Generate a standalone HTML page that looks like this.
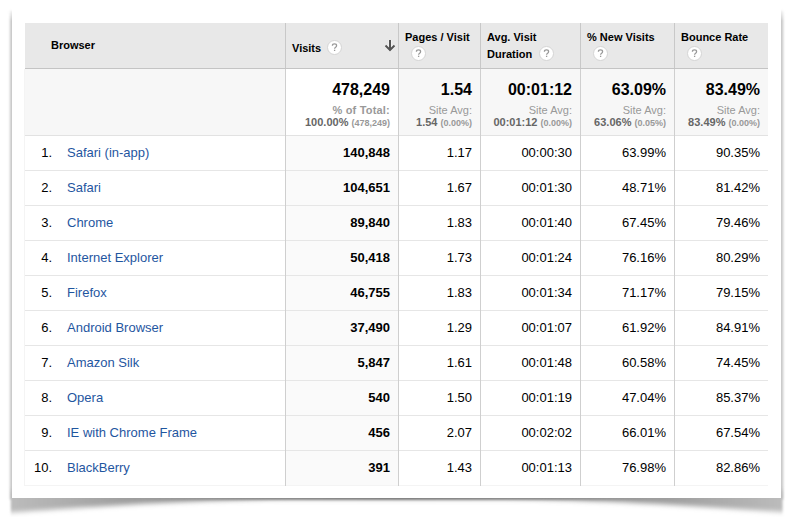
<!DOCTYPE html><html><head><meta charset="utf-8"><style>
*{margin:0;padding:0;box-sizing:border-box}
html,body{width:797px;height:528px;overflow:hidden;background:#fff;font-family:"Liberation Sans",sans-serif;color:#000}
.a{position:absolute}
#shadow{position:absolute;left:0;top:0}
#card{position:absolute;left:12px;top:0;width:769px;height:498px;background:#fff}
.hd{position:absolute;top:23px;height:45px;background:#e8e8e8}
.hline{position:absolute;background:#c6c6c6}
.vl{position:absolute;width:1px}
.t{position:absolute;white-space:nowrap;font-size:13px;line-height:15px}
.hb{font-size:11px;font-weight:bold;color:#000;line-height:17px}
.q{position:absolute;width:14px;height:14px;border-radius:50%;background:#fff;border:1px solid #d8d8d8;color:#9a9a9a;font-size:10px;line-height:12px;text-align:center;font-weight:normal}
.r{text-align:right}
.lnk{color:#1f569f}
.big{font-size:16px;font-weight:bold;color:#000;line-height:18px}
.gl{font-size:11px;color:#999;line-height:13px}
.gb{font-size:11px;font-weight:bold;color:#666;line-height:13px}
.sm{font-size:9px;font-weight:bold;color:#999}
</style></head><body>
<svg id="shadow" width="797" height="528" viewBox="0 0 797 528">
<defs>
<filter id="bl" x="-5%" y="-5%" width="110%" height="110%"><feGaussianBlur stdDeviation="0.9"/></filter>
<linearGradient id="mg" gradientUnits="userSpaceOnUse" x1="0" x2="0" y1="8" y2="21"><stop offset="0" stop-color="#fff" stop-opacity="0"/><stop offset="1" stop-color="#fff" stop-opacity="1"/></linearGradient>
<mask id="mk" maskUnits="userSpaceOnUse" x="0" y="0" width="797" height="528"><rect x="0" y="0" width="797" height="528" fill="url(#mg)"/></mask>
<filter id="bl2" x="-5%" y="-20%" width="110%" height="140%"><feGaussianBlur stdDeviation="1 2.6"/></filter>
<linearGradient id="sg" gradientUnits="userSpaceOnUse" x1="10" x2="784" y1="0" y2="0">
<stop offset="0" stop-color="#c8c8c8"/><stop offset="0.15" stop-color="#b0b0b0"/><stop offset="0.3" stop-color="#808080"/><stop offset="0.5" stop-color="#6a6a6a"/><stop offset="0.7" stop-color="#808080"/><stop offset="0.85" stop-color="#b0b0b0"/><stop offset="1" stop-color="#c8c8c8"/>
</linearGradient>
<linearGradient id="sg2" gradientUnits="userSpaceOnUse" x1="10" x2="784" y1="0" y2="0">
<stop offset="0" stop-color="#bcbcbc"/><stop offset="0.14" stop-color="#a0a0a0"/><stop offset="0.3" stop-color="#8c8c8c"/><stop offset="0.5" stop-color="#808080"/><stop offset="0.7" stop-color="#8c8c8c"/><stop offset="0.86" stop-color="#a0a0a0"/><stop offset="1" stop-color="#bcbcbc"/>
</linearGradient>
</defs>
<g mask="url(#mk)"><path d="M9.9,10 L783.2,10 L783.2,499.6 L9.9,499.6 Z" fill="url(#sg)" filter="url(#bl)"/></g>
<path d="M10.8,490 L782.6,490 L782.6,512 C700,506.5 600,499.5 500,498.8 L290,498.8 C190,499.5 90,507 10.8,512.5 Z" fill="url(#sg2)" filter="url(#bl2)"/>
</svg>
<div id="card"></div>
<div class="a" style="left:25px;top:23px;width:743px;height:45px;background:#e8e8e8"></div>
<div class="a" style="left:25px;top:68px;width:743px;height:1px;background:#c4c4c4"></div>
<div class="a" style="left:24px;top:69px;width:744px;height:66px;background:#f7f7f7"></div>
<div class="a" style="left:24px;top:135px;width:744px;height:1px;background:#e2e2e2"></div>
<div class="a" style="left:286px;top:69px;width:112px;height:66px;background:#fff"></div>
<div class="a" style="left:286px;top:136px;width:112px;height:349px;background:#fafafa"></div>
<div class="a" style="left:25px;top:170px;width:743px;height:1px;background:#e6e6e6"></div>
<div class="a" style="left:25px;top:205px;width:743px;height:1px;background:#e6e6e6"></div>
<div class="a" style="left:25px;top:240px;width:743px;height:1px;background:#e6e6e6"></div>
<div class="a" style="left:25px;top:275px;width:743px;height:1px;background:#e6e6e6"></div>
<div class="a" style="left:25px;top:310px;width:743px;height:1px;background:#e6e6e6"></div>
<div class="a" style="left:25px;top:345px;width:743px;height:1px;background:#e6e6e6"></div>
<div class="a" style="left:25px;top:380px;width:743px;height:1px;background:#e6e6e6"></div>
<div class="a" style="left:25px;top:415px;width:743px;height:1px;background:#e6e6e6"></div>
<div class="a" style="left:25px;top:450px;width:743px;height:1px;background:#e6e6e6"></div>
<div class="a" style="left:24px;top:485px;width:744px;height:1px;background:#f4f4f4"></div>
<div class="a" style="left:24px;top:69px;width:1px;height:417px;background:#f4f4f4"></div>
<div class="a" style="left:285px;top:23px;width:1px;height:45px;background:#c8c8c8"></div>
<div class="a" style="left:285px;top:69px;width:1px;height:417px;background:#cfcfcf"></div>
<div class="a" style="left:398px;top:23px;width:1px;height:45px;background:#c8c8c8"></div>
<div class="a" style="left:398px;top:69px;width:1px;height:417px;background:#cfcfcf"></div>
<div class="a" style="left:480px;top:23px;width:1px;height:45px;background:#c8c8c8"></div>
<div class="a" style="left:480px;top:69px;width:1px;height:417px;background:#cfcfcf"></div>
<div class="a" style="left:580px;top:23px;width:1px;height:45px;background:#c8c8c8"></div>
<div class="a" style="left:580px;top:69px;width:1px;height:417px;background:#cfcfcf"></div>
<div class="a" style="left:674px;top:23px;width:1px;height:45px;background:#c8c8c8"></div>
<div class="a" style="left:674px;top:69px;width:1px;height:417px;background:#cfcfcf"></div>
<div class="t hb" style="left:51px;top:37px">Browser</div>
<div class="t hb" style="left:292px;top:40px">Visits</div>
<svg class="a" style="left:327px;top:40px" width="15" height="15" viewBox="0 0 15 15"><circle cx="7.5" cy="7.5" r="7" fill="#fff" stroke="#d4d4d4" stroke-width="1"/><path d="M5.4,5.7 C5.4,4.5 6.3,3.9 7.5,3.9 C8.8,3.9 9.6,4.7 9.6,5.7 C9.6,7.1 7.6,7.2 7.6,8.7" stroke="#999" stroke-width="1.25" fill="none"/><rect x="6.95" y="9.7" width="1.3" height="1.3" fill="#999"/></svg>
<svg class="a" style="left:383px;top:38px" width="14" height="14" viewBox="0 0 14 14"><path d="M7,2 V12 M2.5,7.5 L7,12 L11.5,7.5" stroke="#fff" stroke-opacity="0.45" stroke-width="3.6" fill="none"/><path d="M7,2 V12 M2.5,7.5 L7,12 L11.5,7.5" stroke="#555" stroke-width="2" fill="none"/></svg>
<div class="t hb" style="left:405px;top:29px">Pages / Visit</div>
<svg class="a" style="left:411px;top:46px" width="15" height="15" viewBox="0 0 15 15"><circle cx="7.5" cy="7.5" r="7" fill="#fff" stroke="#d4d4d4" stroke-width="1"/><path d="M5.4,5.7 C5.4,4.5 6.3,3.9 7.5,3.9 C8.8,3.9 9.6,4.7 9.6,5.7 C9.6,7.1 7.6,7.2 7.6,8.7" stroke="#999" stroke-width="1.25" fill="none"/><rect x="6.95" y="9.7" width="1.3" height="1.3" fill="#999"/></svg>
<div class="t hb" style="left:487px;top:29px">Avg. Visit</div>
<div class="t hb" style="left:487px;top:46px">Duration</div>
<svg class="a" style="left:539px;top:46px" width="15" height="15" viewBox="0 0 15 15"><circle cx="7.5" cy="7.5" r="7" fill="#fff" stroke="#d4d4d4" stroke-width="1"/><path d="M5.4,5.7 C5.4,4.5 6.3,3.9 7.5,3.9 C8.8,3.9 9.6,4.7 9.6,5.7 C9.6,7.1 7.6,7.2 7.6,8.7" stroke="#999" stroke-width="1.25" fill="none"/><rect x="6.95" y="9.7" width="1.3" height="1.3" fill="#999"/></svg>
<div class="t hb" style="left:587px;top:29px">% New Visits</div>
<svg class="a" style="left:593px;top:46px" width="15" height="15" viewBox="0 0 15 15"><circle cx="7.5" cy="7.5" r="7" fill="#fff" stroke="#d4d4d4" stroke-width="1"/><path d="M5.4,5.7 C5.4,4.5 6.3,3.9 7.5,3.9 C8.8,3.9 9.6,4.7 9.6,5.7 C9.6,7.1 7.6,7.2 7.6,8.7" stroke="#999" stroke-width="1.25" fill="none"/><rect x="6.95" y="9.7" width="1.3" height="1.3" fill="#999"/></svg>
<div class="t hb" style="left:681px;top:29px">Bounce Rate</div>
<svg class="a" style="left:687px;top:46px" width="15" height="15" viewBox="0 0 15 15"><circle cx="7.5" cy="7.5" r="7" fill="#fff" stroke="#d4d4d4" stroke-width="1"/><path d="M5.4,5.7 C5.4,4.5 6.3,3.9 7.5,3.9 C8.8,3.9 9.6,4.7 9.6,5.7 C9.6,7.1 7.6,7.2 7.6,8.7" stroke="#999" stroke-width="1.25" fill="none"/><rect x="6.95" y="9.7" width="1.3" height="1.3" fill="#999"/></svg>
<div class="t r big" style="right:407px;top:81px">478,249</div>
<div class="t r gl" style="right:407px;top:104px"><b style="color:#999;letter-spacing:0.2px">% of Total:</b></div>
<div class="t r gb" style="right:407px;top:116px">100.00% <span class="sm">(478,249)</span></div>
<div class="t r big" style="right:325px;top:81px">1.54</div>
<div class="t r gl" style="right:325px;top:104px">Site Avg:</div>
<div class="t r gb" style="right:325px;top:116px">1.54 <span class="sm">(0.00%)</span></div>
<div class="t r big" style="right:225px;top:81px">00:01:12</div>
<div class="t r gl" style="right:225px;top:104px">Site Avg:</div>
<div class="t r gb" style="right:225px;top:116px">00:01:12 <span class="sm">(0.00%)</span></div>
<div class="t r big" style="right:131px;top:81px">63.09%</div>
<div class="t r gl" style="right:131px;top:104px">Site Avg:</div>
<div class="t r gb" style="right:131px;top:116px">63.06% <span class="sm">(0.05%)</span></div>
<div class="t r big" style="right:37px;top:81px">83.49%</div>
<div class="t r gl" style="right:37px;top:104px">Site Avg:</div>
<div class="t r gb" style="right:37px;top:116px">83.49% <span class="sm">(0.00%)</span></div>
<div class="t r" style="right:745px;top:145px">1.</div>
<div class="t lnk" style="left:67px;top:145px">Safari (in-app)</div>
<div class="t r" style="right:407px;top:145px;font-weight:bold;">140,848</div>
<div class="t r" style="right:325px;top:145px;">1.17</div>
<div class="t r" style="right:225px;top:145px;">00:00:30</div>
<div class="t r" style="right:131px;top:145px;">63.99%</div>
<div class="t r" style="right:37px;top:145px;">90.35%</div>
<div class="t r" style="right:745px;top:180px">2.</div>
<div class="t lnk" style="left:67px;top:180px">Safari</div>
<div class="t r" style="right:407px;top:180px;font-weight:bold;">104,651</div>
<div class="t r" style="right:325px;top:180px;">1.67</div>
<div class="t r" style="right:225px;top:180px;">00:01:30</div>
<div class="t r" style="right:131px;top:180px;">48.71%</div>
<div class="t r" style="right:37px;top:180px;">81.42%</div>
<div class="t r" style="right:745px;top:215px">3.</div>
<div class="t lnk" style="left:67px;top:215px">Chrome</div>
<div class="t r" style="right:407px;top:215px;font-weight:bold;">89,840</div>
<div class="t r" style="right:325px;top:215px;">1.83</div>
<div class="t r" style="right:225px;top:215px;">00:01:40</div>
<div class="t r" style="right:131px;top:215px;">67.45%</div>
<div class="t r" style="right:37px;top:215px;">79.46%</div>
<div class="t r" style="right:745px;top:250px">4.</div>
<div class="t lnk" style="left:67px;top:250px">Internet Explorer</div>
<div class="t r" style="right:407px;top:250px;font-weight:bold;">50,418</div>
<div class="t r" style="right:325px;top:250px;">1.73</div>
<div class="t r" style="right:225px;top:250px;">00:01:24</div>
<div class="t r" style="right:131px;top:250px;">76.16%</div>
<div class="t r" style="right:37px;top:250px;">80.29%</div>
<div class="t r" style="right:745px;top:285px">5.</div>
<div class="t lnk" style="left:67px;top:285px">Firefox</div>
<div class="t r" style="right:407px;top:285px;font-weight:bold;">46,755</div>
<div class="t r" style="right:325px;top:285px;">1.83</div>
<div class="t r" style="right:225px;top:285px;">00:01:34</div>
<div class="t r" style="right:131px;top:285px;">71.17%</div>
<div class="t r" style="right:37px;top:285px;">79.15%</div>
<div class="t r" style="right:745px;top:320px">6.</div>
<div class="t lnk" style="left:67px;top:320px">Android Browser</div>
<div class="t r" style="right:407px;top:320px;font-weight:bold;">37,490</div>
<div class="t r" style="right:325px;top:320px;">1.29</div>
<div class="t r" style="right:225px;top:320px;">00:01:07</div>
<div class="t r" style="right:131px;top:320px;">61.92%</div>
<div class="t r" style="right:37px;top:320px;">84.91%</div>
<div class="t r" style="right:745px;top:355px">7.</div>
<div class="t lnk" style="left:67px;top:355px">Amazon Silk</div>
<div class="t r" style="right:407px;top:355px;font-weight:bold;">5,847</div>
<div class="t r" style="right:325px;top:355px;">1.61</div>
<div class="t r" style="right:225px;top:355px;">00:01:48</div>
<div class="t r" style="right:131px;top:355px;">60.58%</div>
<div class="t r" style="right:37px;top:355px;">74.45%</div>
<div class="t r" style="right:745px;top:390px">8.</div>
<div class="t lnk" style="left:67px;top:390px">Opera</div>
<div class="t r" style="right:407px;top:390px;font-weight:bold;">540</div>
<div class="t r" style="right:325px;top:390px;">1.50</div>
<div class="t r" style="right:225px;top:390px;">00:01:19</div>
<div class="t r" style="right:131px;top:390px;">47.04%</div>
<div class="t r" style="right:37px;top:390px;">85.37%</div>
<div class="t r" style="right:745px;top:425px">9.</div>
<div class="t lnk" style="left:67px;top:425px">IE with Chrome Frame</div>
<div class="t r" style="right:407px;top:425px;font-weight:bold;">456</div>
<div class="t r" style="right:325px;top:425px;">2.07</div>
<div class="t r" style="right:225px;top:425px;">00:02:02</div>
<div class="t r" style="right:131px;top:425px;">66.01%</div>
<div class="t r" style="right:37px;top:425px;">67.54%</div>
<div class="t r" style="right:745px;top:460px">10.</div>
<div class="t lnk" style="left:67px;top:460px">BlackBerry</div>
<div class="t r" style="right:407px;top:460px;font-weight:bold;">391</div>
<div class="t r" style="right:325px;top:460px;">1.43</div>
<div class="t r" style="right:225px;top:460px;">00:01:13</div>
<div class="t r" style="right:131px;top:460px;">76.98%</div>
<div class="t r" style="right:37px;top:460px;">82.86%</div>
</body></html>
